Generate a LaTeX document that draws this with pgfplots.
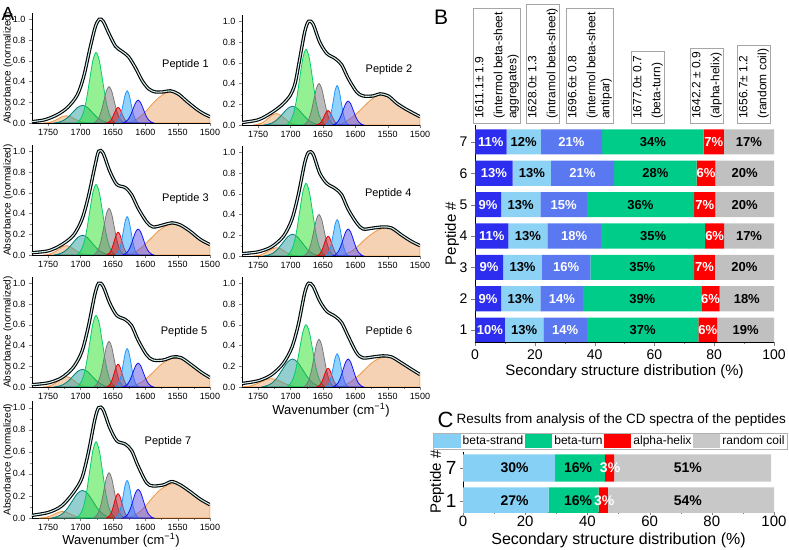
\documentclass[border=0pt]{standalone}
\usepackage{fontspec}
\setmainfont{Liberation Sans}
\usepackage{pgfplots}
\pgfplotsset{compat=1.18}

% component colours (panel A)
\definecolor{cGreen}{RGB}{0,205,110}
\definecolor{fGreen}{RGB}{40,225,40}
\definecolor{cTeal}{RGB}{0,128,128}
\definecolor{fTeal}{RGB}{40,160,160}
\definecolor{cGray}{RGB}{120,120,120}
\definecolor{cRed}{RGB}{235,0,0}
\definecolor{fRed}{RGB}{200,0,20}
\definecolor{cLBlue}{RGB}{30,150,255}
\definecolor{fLBlue}{RGB}{40,165,255}
\definecolor{cBlue}{RGB}{20,20,240}
\definecolor{fBlue}{RGB}{90,80,230}
\definecolor{cOrange}{RGB}{240,150,70}
\definecolor{fOrange}{RGB}{235,165,105}
\definecolor{cTot}{RGB}{205,235,235}
% bar colours (panels B, C)
\definecolor{bAgg}{RGB}{45,45,240}
\definecolor{bIntra}{RGB}{140,210,245}
\definecolor{bAnti}{RGB}{90,120,240}
\definecolor{bTurn}{RGB}{0,204,138}
\definecolor{bHelix}{RGB}{255,0,0}
\definecolor{bCoil}{RGB}{192,192,192}
\definecolor{cStrand}{RGB}{135,208,245}
\definecolor{cCoil}{RGB}{200,200,200}

\pgfplotsset{
  ftir/.style={anchor=south west, scale only axis, width=178pt, height=110pt,
    xmin=1500, xmax=1775, ymin=0, ymax=1.06, x dir=reverse,
    axis x line*=bottom, axis y line*=left, tick align=outside,
    xtick={1500,1550,1600,1650,1700,1750}, minor x tick num=1,
    ytick={0,0.2,0.4,0.6,0.8,1}, minor y tick num=1,
    major tick length=3pt, minor tick length=1.5pt,
    tick label style={font=\fontsize{9}{10}\selectfont},
    /pgf/number format/assume math mode=true,
    /pgf/number format/1000 sep={},
    yticklabel style={/pgf/number format/fixed, /pgf/number format/fixed zerofill, /pgf/number format/precision=1},
    ylabel style={font=\fontsize{10}{11}\selectfont, at={(axis description cs:-0.135,0.5)}, anchor=center},
    xlabel style={font=\fontsize{13}{14}\selectfont, anchor=center},
    axis line style={line width=0.6pt}},
  comp/.style={smooth, line width=0.8pt, fill opacity=0.5},
  gG/.style={comp, draw=cGreen, fill=fGreen},
  gT/.style={comp, draw=cTeal, fill=fTeal},
  gY/.style={comp, draw=cGray, fill=cGray},
  gR/.style={comp, draw=cRed, fill=fRed},
  gL/.style={comp, draw=cLBlue, fill=fLBlue},
  gB/.style={comp, draw=cBlue, fill=fBlue},
  gO/.style={comp, draw=cOrange, fill=fOrange},
  tot/.style={smooth, draw=black, line width=1.1pt, double=cTot, double distance=1.1pt},
  legrect/.style={legend image code/.code={\fill[##1] (0pt,-7pt) rectangle (27pt,7pt);}},
}
\tikzset{
  pep/.style={font=\fontsize{11}{12}\selectfont},
  lw/.style={text=white, font=\bfseries\fontsize{13}{14}\selectfont},
  lk/.style={text=black, font=\bfseries\fontsize{13}{14}\selectfont},
  cw/.style={text=white, font=\bfseries\fontsize{14}{15}\selectfont},
  ck/.style={text=black, font=\bfseries\fontsize{14}{15}\selectfont},
  box/.style={draw=gray!70, rotate=90, anchor=west, align=left, inner xsep=4pt, inner ysep=1.5pt,
    font=\fontsize{12}{14}\selectfont},
}

\begin{document}
\begin{tikzpicture}
\useasboundingbox (0pt,0pt) rectangle (789pt,549pt);

% ---------------- Panel A ----------------
\node[font=\fontsize{19}{20}\selectfont] at (8pt,535pt) {A};

% Peptide 1
\begin{axis}[ftir, at={(32pt,426pt)}, ylabel={Absorbance (normalized)}]
\addplot[gO] coordinates {(1628,0)(1618,.02)(1608,.06)(1598,.12)(1588,.19)(1578,.25)(1568,.29)(1558,.30)(1548,.27)(1536,.21)(1520,.13)(1510,.09)(1500,.06)} \closedcycle;
\addplot[gO] coordinates {(1686,0)(1692,.003)(1698,.009)(1704,.023)(1710,.042)(1716,.062)(1722,.07)(1728,.062)(1734,.042)(1740,.023)(1746,.009)(1752,.003)(1758,0)} \closedcycle;
\addplot[gT] coordinates {(1652,0)(1659.5,.007)(1667,.023)(1674.5,.055)(1682,.103)(1689.5,.150)(1697,.17)(1704.5,.150)(1712,.103)(1719.5,.055)(1727,.023)(1734.5,.007)(1742,0)} \closedcycle;
\addplot[gG] coordinates {(1646,0)(1651,.030)(1656,.092)(1661,.221)(1666,.413)(1671,.600)(1676,.68)(1681,.600)(1686,.413)(1691,.221)(1696,.092)(1701,.030)(1706,0)} \closedcycle;
\addplot[gY] coordinates {(1632,0)(1636,.015)(1640,.047)(1644,.114)(1648,.212)(1652,.309)(1656,.35)(1660,.309)(1664,.212)(1668,.114)(1672,.047)(1676,.015)(1680,0)} \closedcycle;
\addplot[gR] coordinates {(1624,0)(1627,.007)(1630,.020)(1633,.049)(1636,.091)(1639,.132)(1642,.15)(1645,.132)(1648,.091)(1651,.049)(1654,.020)(1657,.007)(1660,0)} \closedcycle;
\addplot[gL] coordinates {(1610,0)(1613,.014)(1616,.042)(1619,.101)(1622,.188)(1625,.273)(1628,.31)(1631,.273)(1634,.188)(1637,.101)(1640,.042)(1643,.014)(1646,0)} \closedcycle;
\addplot[gB] coordinates {(1587,0)(1591,.010)(1595,.030)(1599,.072)(1603,.134)(1607,.194)(1611,.22)(1615,.194)(1619,.134)(1623,.072)(1627,.030)(1631,.010)(1635,0)} \closedcycle;
\addplot[tot] coordinates {(1780,.01)(1756,.03)(1736,.08)(1720,.15)(1705,.27)(1695,.45)(1685,.73)(1677,.93)(1671,1.0)(1665,.98)(1656,.86)(1646,.74)(1636,.69)(1626,.64)(1615,.53)(1605,.41)(1595,.33)(1585,.30)(1572,.30)(1561,.31)(1549,.28)(1536,.21)(1520,.13)(1510,.09)(1500,.06)};
\node[pep] at (axis cs:1538,0.56) {Peptide 1};
\end{axis}

% Peptide 2
\begin{axis}[ftir, at={(242pt,424pt)}]
\addplot[gO] coordinates {(1628,0)(1618,.02)(1608,.06)(1598,.11)(1588,.17)(1578,.23)(1568,.28)(1560,.295)(1549,.28)(1536,.21)(1521,.15)(1510,.11)(1500,.08)} \closedcycle;
\addplot[gO] coordinates {(1686,0)(1692,.005)(1698,.015)(1704,.036)(1710,.067)(1716,.097)(1722,.11)(1728,.097)(1734,.067)(1740,.036)(1746,.015)(1752,.005)(1758,0)} \closedcycle;
\addplot[gT] coordinates {(1652,0)(1659.5,.008)(1667,.024)(1674.5,.059)(1682,.109)(1689.5,.159)(1697,.18)(1704.5,.159)(1712,.109)(1719.5,.059)(1727,.024)(1734.5,.008)(1742,0)} \closedcycle;
\addplot[gG] coordinates {(1646,0)(1651,.032)(1656,.099)(1661,.237)(1666,.443)(1671,.644)(1676,.73)(1681,.644)(1686,.443)(1691,.237)(1696,.099)(1701,.032)(1706,0)} \closedcycle;
\addplot[gY] coordinates {(1632,0)(1636,.018)(1640,.054)(1644,.130)(1648,.243)(1652,.353)(1656,.40)(1660,.353)(1664,.243)(1668,.130)(1672,.054)(1676,.018)(1680,0)} \closedcycle;
\addplot[gR] coordinates {(1624,0)(1627,.006)(1630,.019)(1633,.046)(1636,.085)(1639,.123)(1642,.14)(1645,.123)(1648,.085)(1651,.046)(1654,.019)(1657,.006)(1660,0)} \closedcycle;
\addplot[gL] coordinates {(1610,0)(1613,.017)(1616,.051)(1619,.124)(1622,.231)(1625,.335)(1628,.38)(1631,.335)(1634,.231)(1637,.124)(1640,.051)(1643,.017)(1646,0)} \closedcycle;
\addplot[gB] coordinates {(1587,0)(1591,.010)(1595,.031)(1599,.075)(1603,.140)(1607,.203)(1611,.23)(1615,.203)(1619,.140)(1623,.075)(1627,.031)(1631,.010)(1635,0)} \closedcycle;
\addplot[tot] coordinates {(1780,.02)(1750,.05)(1729,.12)(1714,.19)(1701,.28)(1693,.40)(1686,.63)(1678,.90)(1672,1.0)(1665,.97)(1655,.80)(1644,.69)(1631,.64)(1621,.58)(1611,.45)(1598,.32)(1588,.28)(1572,.28)(1562,.30)(1549,.28)(1536,.21)(1521,.15)(1500,.08)};
\node[pep] at (axis cs:1548,0.53) {Peptide 2};
\end{axis}

% Peptide 3
\begin{axis}[ftir, at={(32pt,294pt)}, ylabel={Absorbance (normalized)}]
\addplot[gO] coordinates {(1628,0)(1618,.02)(1608,.06)(1598,.12)(1588,.18)(1578,.24)(1568,.28)(1558,.30)(1546,.29)(1531,.23)(1515,.15)(1500,.10)} \closedcycle;
\addplot[gO] coordinates {(1686,0)(1692,.004)(1698,.012)(1704,.029)(1710,.055)(1716,.079)(1722,.09)(1728,.079)(1734,.055)(1740,.029)(1746,.012)(1752,.004)(1758,0)} \closedcycle;
\addplot[gT] coordinates {(1652,0)(1659.5,.008)(1667,.026)(1674.5,.062)(1682,.115)(1689.5,.168)(1697,.19)(1704.5,.168)(1712,.115)(1719.5,.062)(1727,.026)(1734.5,.008)(1742,0)} \closedcycle;
\addplot[gG] coordinates {(1646,0)(1651,.030)(1656,.092)(1661,.221)(1666,.413)(1671,.600)(1676,.68)(1681,.600)(1686,.413)(1691,.221)(1696,.092)(1701,.030)(1706,0)} \closedcycle;
\addplot[gY] coordinates {(1632,0)(1636,.020)(1640,.061)(1644,.146)(1648,.273)(1652,.397)(1656,.45)(1660,.397)(1664,.273)(1668,.146)(1672,.061)(1676,.020)(1680,0)} \closedcycle;
\addplot[gR] coordinates {(1624,0)(1627,.010)(1630,.030)(1633,.072)(1636,.134)(1639,.194)(1642,.22)(1645,.194)(1648,.134)(1651,.072)(1654,.030)(1657,.010)(1660,0)} \closedcycle;
\addplot[gL] coordinates {(1610,0)(1613,.016)(1616,.050)(1619,.120)(1622,.225)(1625,.326)(1628,.37)(1631,.326)(1634,.225)(1637,.120)(1640,.050)(1643,.016)(1646,0)} \closedcycle;
\addplot[gB] coordinates {(1587,0)(1591,.011)(1595,.034)(1599,.081)(1603,.152)(1607,.221)(1611,.25)(1615,.221)(1619,.152)(1623,.081)(1627,.034)(1631,.011)(1635,0)} \closedcycle;
\addplot[tot] coordinates {(1780,.02)(1750,.04)(1729,.10)(1711,.19)(1698,.34)(1688,.56)(1678,.85)(1672,1.0)(1665,.98)(1655,.81)(1644,.68)(1631,.65)(1621,.58)(1611,.45)(1598,.32)(1588,.27)(1572,.29)(1559,.31)(1546,.29)(1531,.23)(1515,.15)(1500,.10)};
\node[pep] at (axis cs:1538,0.54) {Peptide 3};
\end{axis}

% Peptide 4
\begin{axis}[ftir, at={(242pt,293pt)}]
\addplot[gO] coordinates {(1625,0)(1615,.02)(1605,.05)(1595,.10)(1585,.16)(1575,.21)(1565,.25)(1555,.27)(1544,.27)(1528,.20)(1513,.14)(1500,.10)} \closedcycle;
\addplot[gO] coordinates {(1686,0)(1692,.004)(1698,.011)(1704,.026)(1710,.049)(1716,.071)(1722,.08)(1728,.071)(1734,.049)(1740,.026)(1746,.011)(1752,.004)(1758,0)} \closedcycle;
\addplot[gT] coordinates {(1652,0)(1659.5,.009)(1667,.028)(1674.5,.068)(1682,.127)(1689.5,.185)(1697,.21)(1704.5,.185)(1712,.127)(1719.5,.068)(1727,.028)(1734.5,.009)(1742,0)} \closedcycle;
\addplot[gG] coordinates {(1646,0)(1651,.031)(1656,.095)(1661,.228)(1666,.425)(1671,.617)(1676,.70)(1681,.617)(1686,.425)(1691,.228)(1696,.095)(1701,.031)(1706,0)} \closedcycle;
\addplot[gY] coordinates {(1632,0)(1636,.018)(1640,.054)(1644,.130)(1648,.243)(1652,.353)(1656,.40)(1660,.353)(1664,.243)(1668,.130)(1672,.054)(1676,.018)(1680,0)} \closedcycle;
\addplot[gR] coordinates {(1624,0)(1627,.008)(1630,.026)(1633,.062)(1636,.115)(1639,.168)(1642,.19)(1645,.168)(1648,.115)(1651,.062)(1654,.026)(1657,.008)(1660,0)} \closedcycle;
\addplot[gL] coordinates {(1610,0)(1613,.015)(1616,.047)(1619,.114)(1622,.212)(1625,.309)(1628,.35)(1631,.309)(1634,.212)(1637,.114)(1640,.047)(1643,.015)(1646,0)} \closedcycle;
\addplot[gB] coordinates {(1587,0)(1591,.011)(1595,.035)(1599,.085)(1603,.158)(1607,.229)(1611,.26)(1615,.229)(1619,.158)(1623,.085)(1627,.035)(1631,.011)(1635,0)} \closedcycle;
\addplot[tot] coordinates {(1780,.02)(1750,.04)(1729,.09)(1711,.19)(1698,.35)(1688,.59)(1678,.90)(1672,1.0)(1665,.98)(1655,.80)(1644,.70)(1631,.65)(1621,.59)(1611,.45)(1598,.32)(1588,.26)(1572,.27)(1557,.28)(1544,.27)(1528,.20)(1513,.14)(1500,.10)};
\node[pep] at (axis cs:1549,0.60) {Peptide 4};
\end{axis}

% Peptide 5
\begin{axis}[ftir, at={(32pt,162pt)}, ylabel={Absorbance (normalized)}]
\addplot[gO] coordinates {(1625,0)(1615,.02)(1605,.05)(1595,.10)(1585,.16)(1575,.22)(1565,.26)(1555,.28)(1544,.28)(1528,.21)(1513,.14)(1500,.09)} \closedcycle;
\addplot[gO] coordinates {(1686,0)(1692,.004)(1698,.014)(1704,.033)(1710,.061)(1716,.088)(1722,.10)(1728,.088)(1734,.061)(1740,.033)(1746,.014)(1752,.004)(1758,0)} \closedcycle;
\addplot[gT] coordinates {(1652,0)(1659.5,.007)(1667,.023)(1674.5,.055)(1682,.103)(1689.5,.150)(1697,.17)(1704.5,.150)(1712,.103)(1719.5,.055)(1727,.023)(1734.5,.007)(1742,0)} \closedcycle;
\addplot[gG] coordinates {(1646,0)(1651,.030)(1656,.093)(1661,.224)(1666,.419)(1671,.609)(1676,.69)(1681,.609)(1686,.419)(1691,.224)(1696,.093)(1701,.030)(1706,0)} \closedcycle;
\addplot[gY] coordinates {(1632,0)(1636,.019)(1640,.059)(1644,.143)(1648,.267)(1652,.388)(1656,.44)(1660,.388)(1664,.267)(1668,.143)(1672,.059)(1676,.019)(1680,0)} \closedcycle;
\addplot[gR] coordinates {(1624,0)(1627,.010)(1630,.030)(1633,.072)(1636,.134)(1639,.194)(1642,.22)(1645,.194)(1648,.134)(1651,.072)(1654,.030)(1657,.010)(1660,0)} \closedcycle;
\addplot[gL] coordinates {(1610,0)(1613,.016)(1616,.050)(1619,.120)(1622,.225)(1625,.326)(1628,.37)(1631,.326)(1634,.225)(1637,.120)(1640,.050)(1643,.016)(1646,0)} \closedcycle;
\addplot[gB] coordinates {(1587,0)(1591,.010)(1595,.031)(1599,.075)(1603,.140)(1607,.203)(1611,.23)(1615,.203)(1619,.140)(1623,.075)(1627,.031)(1631,.010)(1635,0)} \closedcycle;
\addplot[tot] coordinates {(1780,.02)(1750,.04)(1729,.09)(1711,.19)(1698,.34)(1688,.58)(1678,.89)(1672,1.0)(1665,.97)(1655,.81)(1644,.69)(1631,.65)(1621,.59)(1611,.45)(1598,.31)(1588,.26)(1572,.26)(1557,.29)(1544,.28)(1528,.21)(1513,.14)(1500,.09)};
\node[pep] at (axis cs:1540,0.53) {Peptide 5};
\end{axis}

% Peptide 6
\begin{axis}[ftir, at={(242pt,162pt)}, xlabel={Wavenumber (cm\textsuperscript{−1})},
  xlabel style={at={(axis description cs:0.5,-0.21)}}]
\addplot[gO] coordinates {(1625,0)(1615,.02)(1605,.06)(1595,.11)(1585,.17)(1575,.23)(1565,.27)(1555,.29)(1544,.29)(1528,.23)(1513,.17)(1500,.12)} \closedcycle;
\addplot[gO] coordinates {(1682,0)(1690,.004)(1698,.011)(1706,.026)(1714,.049)(1722,.071)(1730,.08)(1738,.071)(1746,.049)(1754,.026)(1762,.011)(1770,.004)(1778,0)} \closedcycle;
\addplot[gT] coordinates {(1649,0)(1657,.012)(1665,.036)(1673,.088)(1681,.164)(1689,.238)(1697,.27)(1705,.238)(1713,.164)(1721,.088)(1729,.036)(1737,.012)(1745,0)} \closedcycle;
\addplot[gG] coordinates {(1646,0)(1651,.026)(1656,.081)(1661,.195)(1666,.364)(1671,.529)(1676,.60)(1681,.529)(1686,.364)(1691,.195)(1696,.081)(1701,.026)(1706,0)} \closedcycle;
\addplot[gY] coordinates {(1632,0)(1636,.020)(1640,.062)(1644,.150)(1648,.279)(1652,.406)(1656,.46)(1660,.406)(1664,.279)(1668,.150)(1672,.062)(1676,.020)(1680,0)} \closedcycle;
\addplot[gR] coordinates {(1624,0)(1627,.008)(1630,.024)(1633,.059)(1636,.109)(1639,.159)(1642,.18)(1645,.159)(1648,.109)(1651,.059)(1654,.024)(1657,.008)(1660,0)} \closedcycle;
\addplot[gL] coordinates {(1610,0)(1613,.014)(1616,.043)(1619,.104)(1622,.194)(1625,.282)(1628,.32)(1631,.282)(1634,.194)(1637,.104)(1640,.043)(1643,.014)(1646,0)} \closedcycle;
\addplot[gB] coordinates {(1587,0)(1591,.012)(1595,.036)(1599,.088)(1603,.164)(1607,.238)(1611,.27)(1615,.238)(1619,.164)(1623,.088)(1627,.036)(1631,.012)(1635,0)} \closedcycle;
\addplot[tot] coordinates {(1780,.03)(1750,.06)(1729,.12)(1711,.23)(1698,.38)(1688,.60)(1678,.91)(1672,1.0)(1665,.97)(1655,.83)(1644,.73)(1631,.68)(1621,.62)(1611,.49)(1598,.33)(1588,.28)(1572,.29)(1557,.30)(1544,.29)(1528,.23)(1513,.17)(1500,.12)};
\node[pep] at (axis cs:1548,0.53) {Peptide 6};
\end{axis}

% Peptide 7
\begin{axis}[ftir, at={(32pt,31pt)}, height=117pt, ylabel={Absorbance (normalized)},
  xlabel={Wavenumber (cm\textsuperscript{−1})}, xlabel style={at={(axis description cs:0.5,-0.19)}}]
\addplot[gO] coordinates {(1628,0)(1618,.02)(1608,.06)(1598,.12)(1588,.19)(1578,.25)(1568,.29)(1559,.31)(1546,.30)(1531,.24)(1515,.17)(1500,.12)} \closedcycle;
\addplot[gO] coordinates {(1692,0)(1698,.003)(1704,.008)(1710,.020)(1716,.036)(1722,.053)(1728,.06)(1734,.053)(1740,.036)(1746,.020)(1752,.008)(1758,.003)(1764,0)} \closedcycle;
\addplot[gT] coordinates {(1649,0)(1657,.011)(1665,.034)(1673,.081)(1681,.152)(1689,.221)(1697,.25)(1705,.221)(1713,.152)(1721,.081)(1729,.034)(1737,.011)(1745,0)} \closedcycle;
\addplot[gG] coordinates {(1646,0)(1651,.030)(1656,.093)(1661,.224)(1666,.419)(1671,.609)(1676,.69)(1681,.609)(1686,.419)(1691,.224)(1696,.093)(1701,.030)(1706,0)} \closedcycle;
\addplot[gY] coordinates {(1632,0)(1636,.018)(1640,.055)(1644,.133)(1648,.249)(1652,.362)(1656,.41)(1660,.362)(1664,.249)(1668,.133)(1672,.055)(1676,.018)(1680,0)} \closedcycle;
\addplot[gR] coordinates {(1624,0)(1627,.010)(1630,.030)(1633,.072)(1636,.134)(1639,.194)(1642,.22)(1645,.194)(1648,.134)(1651,.072)(1654,.030)(1657,.010)(1660,0)} \closedcycle;
\addplot[gL] coordinates {(1610,0)(1613,.015)(1616,.046)(1619,.111)(1622,.206)(1625,.300)(1628,.34)(1631,.300)(1634,.206)(1637,.111)(1640,.046)(1643,.015)(1646,0)} \closedcycle;
\addplot[gB] coordinates {(1587,0)(1591,.011)(1595,.035)(1599,.085)(1603,.158)(1607,.229)(1611,.26)(1615,.229)(1619,.158)(1623,.085)(1627,.035)(1631,.011)(1635,0)} \closedcycle;
\addplot[tot] coordinates {(1780,.02)(1750,.05)(1729,.11)(1711,.23)(1698,.36)(1688,.59)(1678,.89)(1672,1.0)(1665,.98)(1655,.82)(1644,.70)(1631,.67)(1621,.61)(1611,.47)(1598,.32)(1588,.29)(1572,.30)(1559,.33)(1546,.30)(1531,.24)(1515,.17)(1500,.12)};
\node[pep] at (axis cs:1565,0.69) {Peptide 7};
\end{axis}

% ---------------- Panel B ----------------
\node[font=\fontsize{21}{22}\selectfont] at (441pt,532pt) {B};
\node[box] at (497pt,426pt) {1611.1± 1.9\\[5pt](intermol beta-sheet\\aggregates)};
\node[box] at (543pt,426pt) {1628.0± 1.3\\[5pt](intramol beta-sheet)};
\node[box] at (590pt,426pt) {1696.6± 0.8\\[5pt](intermol beta-sheet\\antipar)};
\node[box] at (648pt,426pt) {1677.0± 0.7\\[5pt](beta-turn)};
\node[box] at (707pt,426pt) {1642.2 ± 0.9\\[5pt](alpha-helix)};
\node[box] at (754pt,426pt) {1656.7± 1.2\\[5pt](random coil)};

\begin{axis}[at={(475pt,207pt)}, anchor=south west, scale only axis, width=299pt, height=217pt,
  xbar stacked, bar width=0.8, xmin=0, xmax=100, ymin=0.62, ymax=7.54,
  ytick={1,2,3,4,5,6,7}, xtick={0,20,40,60,80,100}, minor x tick num=1,
  axis x line*=bottom, axis y line*=left, tick align=outside,
  major tick length=4pt, minor tick length=2pt,
  tick label style={font=\fontsize{14}{15}\selectfont},
  /pgf/number format/assume math mode=true,
  xlabel={Secondary structure distribution (\%)}, ylabel={Peptide \#},
  xlabel style={font=\fontsize{15}{16}\selectfont, at={(axis description cs:0.5,-0.138)}, anchor=center},
  ylabel style={font=\fontsize{15}{16}\selectfont, at={(axis description cs:-0.077,0.5)}, anchor=center},
  every axis plot/.append style={draw=none}]
\addplot[fill=bAgg] coordinates {(10.0,1)(8.7,2)(9.4,3)(11.2,4)(8.7,5)(12.6,6)(10.6,7)};
\addplot[fill=bIntra] coordinates {(12.9,1)(13.2,2)(13.0,3)(13.0,4)(13.2,5)(12.8,6)(11.4,7)};
\addplot[fill=bAnti] coordinates {(14.5,1)(14.3,2)(16.2,3)(17.9,4)(15.5,5)(21.1,6)(20.5,7)};
\addplot[fill=bTurn] coordinates {(37.3,1)(39.5,2)(34.7,3)(34.9,4)(35.9,5)(27.6,6)(34.0,7)};
\addplot[fill=bHelix] coordinates {(6.3,1)(6.1,2)(6.9,3)(6.3,4)(7.1,5)(6.3,6)(6.7,7)};
\addplot[fill=bCoil] coordinates {(19.0,1)(18.2,2)(19.8,3)(16.7,4)(19.6,5)(19.6,6)(16.8,7)};
% label anchors: centre of each segment
\coordinate (b11) at (axis cs:5.0,1);   \coordinate (b12) at (axis cs:16.45,1); \coordinate (b13) at (axis cs:30.15,1);
\coordinate (b14) at (axis cs:56.05,1); \coordinate (b15) at (axis cs:77.85,1); \coordinate (b16) at (axis cs:90.5,1);
\coordinate (b21) at (axis cs:4.35,2);  \coordinate (b22) at (axis cs:15.3,2);  \coordinate (b23) at (axis cs:29.05,2);
\coordinate (b24) at (axis cs:55.95,2); \coordinate (b25) at (axis cs:78.75,2); \coordinate (b26) at (axis cs:90.9,2);
\coordinate (b31) at (axis cs:4.7,3);   \coordinate (b32) at (axis cs:15.9,3);  \coordinate (b33) at (axis cs:30.5,3);
\coordinate (b34) at (axis cs:55.95,3); \coordinate (b35) at (axis cs:76.75,3); \coordinate (b36) at (axis cs:90.1,3);
\coordinate (b41) at (axis cs:5.6,4);   \coordinate (b42) at (axis cs:17.7,4);  \coordinate (b43) at (axis cs:33.15,4);
\coordinate (b44) at (axis cs:59.55,4); \coordinate (b45) at (axis cs:80.15,4); \coordinate (b46) at (axis cs:91.65,4);
\coordinate (b51) at (axis cs:4.35,5);  \coordinate (b52) at (axis cs:15.3,5);  \coordinate (b53) at (axis cs:29.65,5);
\coordinate (b54) at (axis cs:55.35,5); \coordinate (b55) at (axis cs:76.85,5); \coordinate (b56) at (axis cs:90.2,5);
\coordinate (b61) at (axis cs:6.3,6);   \coordinate (b62) at (axis cs:19.0,6);  \coordinate (b63) at (axis cs:35.95,6);
\coordinate (b64) at (axis cs:60.3,6);  \coordinate (b65) at (axis cs:77.25,6); \coordinate (b66) at (axis cs:90.2,6);
\coordinate (b71) at (axis cs:5.3,7);   \coordinate (b72) at (axis cs:16.3,7);  \coordinate (b73) at (axis cs:32.25,7);
\coordinate (b74) at (axis cs:59.5,7);  \coordinate (b75) at (axis cs:79.85,7); \coordinate (b76) at (axis cs:91.6,7);
\end{axis}
\foreach \n/\t/\s in {b11/10/lw, b12/13/lk, b13/14/lw, b14/37/lk, b15/6/lw, b16/19/lk,
  b21/9/lw, b22/13/lk, b23/14/lw, b24/39/lk, b25/6/lw, b26/18/lk,
  b31/9/lw, b32/13/lk, b33/16/lw, b34/35/lk, b35/7/lw, b36/20/lk,
  b41/11/lw, b42/13/lk, b43/18/lw, b44/35/lk, b45/6/lw, b46/17/lk,
  b51/9/lw, b52/13/lk, b53/15/lw, b54/36/lk, b55/7/lw, b56/20/lk,
  b61/13/lw, b62/13/lk, b63/21/lw, b64/28/lk, b65/6/lw, b66/20/lk,
  b71/11/lw, b72/12/lk, b73/21/lw, b74/34/lk, b75/7/lw, b76/17/lk}
  \node[\s] at (\n) {\t\%};

% ---------------- Panel C ----------------
\node[font=\fontsize{22}{23}\selectfont, anchor=west] at (434pt,129pt) {C};
\node[font=\fontsize{13.5}{14}\selectfont, anchor=west] at (453pt,129pt) {Results from analysis of the CD spectra of the peptides};

\begin{axis}[at={(463pt,37pt)}, anchor=south west, scale only axis, width=311pt, height=60pt,
  xbar stacked, bar width=0.82, xmin=0, xmax=100, ymin=0.667, ymax=2.485,
  ytick={1,2}, yticklabels={1,7}, xtick={0,20,40,60,80,100}, minor x tick num=1,
  axis x line*=bottom, axis y line*=left, tick align=outside,
  major tick length=3pt, minor tick length=1.5pt,
  xticklabel style={font=\fontsize{15}{16}\selectfont, inner ysep=1pt},
  yticklabel style={font=\fontsize{19}{20}\selectfont},
  /pgf/number format/assume math mode=true,
  xlabel={Secondary structure distribution (\%)}, ylabel={Peptide \#},
  xlabel style={font=\fontsize{16}{17}\selectfont, at={(axis description cs:0.5,-0.465)}, anchor=center},
  ylabel style={font=\fontsize{15}{16}\selectfont, at={(axis description cs:-0.084,0.5)}, anchor=center},
  every axis plot/.append style={draw=none},
  legend style={at={(axis description cs:-0.0965,1.05)}, anchor=south west, legend columns=-1,
    draw=gray!60, inner sep=0.5pt, font=\fontsize{12}{13}\selectfont,
    /tikz/every even column/.append style={column sep=0pt}}]
\addplot[fill=cStrand, legrect] coordinates {(27.5,1)(29.5,2)};
\addlegendentry{beta-strand}
\addplot[fill=bTurn, legrect] coordinates {(16.1,1)(16.1,2)};
\addlegendentry{beta-turn}
\addplot[fill=bHelix, legrect] coordinates {(3.0,1)(3.0,2)};
\addlegendentry{alpha-helix}
\addplot[fill=cCoil, legrect] coordinates {(53.4,1)(50.5,2)};
\addlegendentry{random coil}
\coordinate (c21) at (axis cs:16.6,2); \coordinate (c22) at (axis cs:37,2);
\coordinate (c23) at (axis cs:47.3,2); \coordinate (c24) at (axis cs:72.3,2);
\coordinate (c11) at (axis cs:16.6,1); \coordinate (c12) at (axis cs:37,1);
\coordinate (c13) at (axis cs:45.4,1); \coordinate (c14) at (axis cs:72.3,1);
\end{axis}
\foreach \n/\t/\s in {c21/30/ck, c22/16/ck, c23/3/cw, c24/51/ck,
  c11/27/ck, c12/16/ck, c13/3/cw, c14/54/ck}
  \node[\s] at (\n) {\t\%};
\end{tikzpicture}
\end{document}
